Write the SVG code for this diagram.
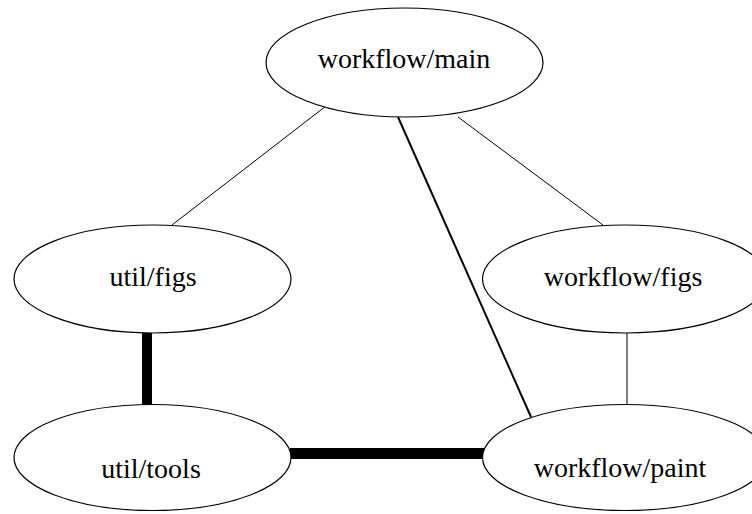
<svg xmlns="http://www.w3.org/2000/svg" width="752" height="514" viewBox="0 0 752 514">
<style>
.node ellipse{fill:#fff;stroke:#000;stroke-width:1.2}
.node text{font-family:"Liberation Serif","Times New Roman",serif;font-size:28px;fill:#000;text-anchor:middle}
.edge{stroke:#000;fill:none}
</style>
<rect width="752" height="514" fill="#fff"/>
<g id="edges">
<line class="edge" x1="326" y1="106" x2="172" y2="225" stroke-width="1"/>
<line class="edge" x1="458" y1="117" x2="603" y2="225" stroke-width="1"/>
<line class="edge" x1="398" y1="117" x2="531" y2="417" stroke-width="2"/>
<line class="edge" x1="627" y1="333" x2="627" y2="405" stroke-width="1"/>
<line class="edge" x1="147" y1="333" x2="147" y2="405" stroke-width="10"/>
<line class="edge" x1="290" y1="453.5" x2="484" y2="453.5" stroke-width="11"/>
</g>
<g id="workflow_main" class="node">
<ellipse cx="404.5" cy="62.5" rx="138.5" ry="54.5"/>
<text x="404" y="68">workflow/main</text>
</g>
<g id="util_figs" class="node">
<ellipse cx="152.5" cy="279" rx="138.5" ry="54"/>
<text x="153" y="286">util/figs</text>
</g>
<g id="workflow_figs" class="node">
<ellipse cx="625" cy="279" rx="142.5" ry="54"/>
<text x="623" y="286">workflow/figs</text>
</g>
<g id="util_tools" class="node">
<ellipse cx="152.5" cy="457.5" rx="138.5" ry="53"/>
<text x="151" y="478">util/tools</text>
</g>
<g id="workflow_paint" class="node">
<ellipse cx="625" cy="457.5" rx="142.5" ry="53"/>
<text x="620" y="477">workflow/paint</text>
</g>
</svg>
